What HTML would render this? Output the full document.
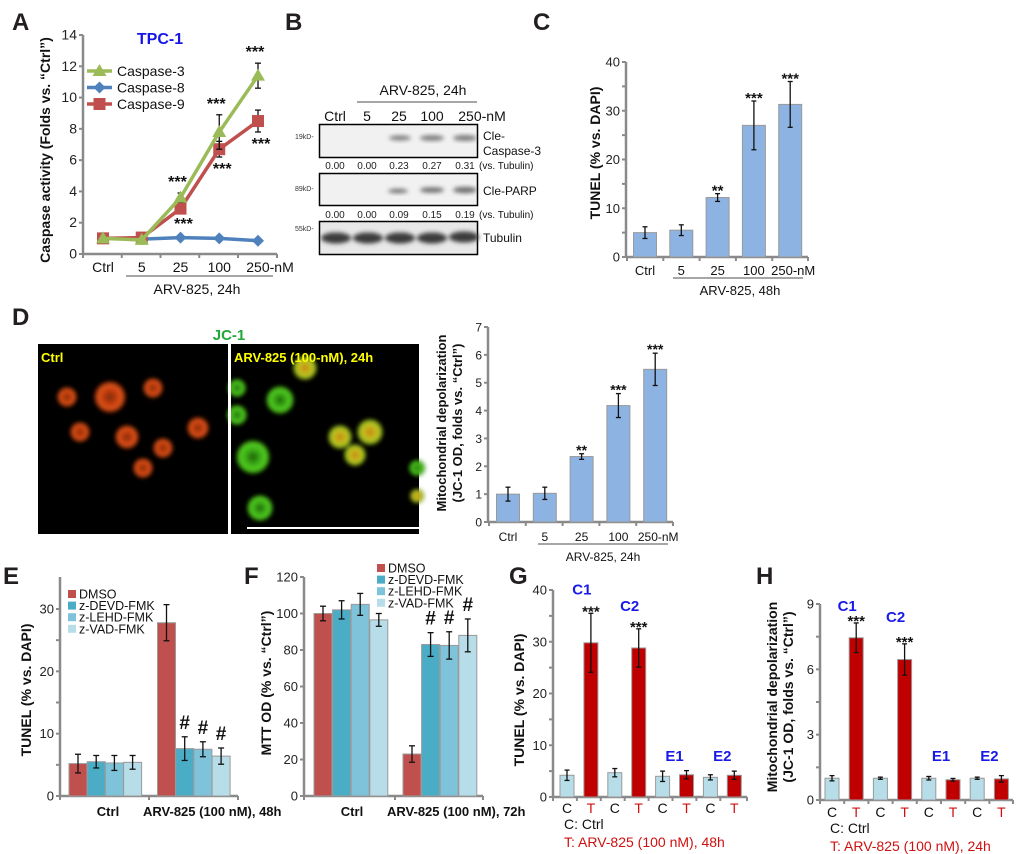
<!DOCTYPE html>
<html><head><meta charset="utf-8"><style>
html,body{margin:0;padding:0;background:#fff;}
svg{display:block;font-family:"Liberation Sans",sans-serif;}
</style></head><body>
<svg id="fig" width="1020" height="854" viewBox="0 0 1020 854" xmlns="http://www.w3.org/2000/svg">
<defs>
<filter id="blur" x="-50%" y="-50%" width="200%" height="200%"><feGaussianBlur stdDeviation="2.2"/></filter>
<radialGradient id="redcell"><stop offset="0" stop-color="#6a3010"/><stop offset="0.45" stop-color="#c83a10"/><stop offset="0.75" stop-color="#e25a1a"/><stop offset="1" stop-color="#300"/></radialGradient>
<radialGradient id="greencell"><stop offset="0" stop-color="#1a5a08"/><stop offset="0.5" stop-color="#3fb51a"/><stop offset="0.8" stop-color="#55d020"/><stop offset="1" stop-color="#0a2a00"/></radialGradient>
<radialGradient id="yellowcell"><stop offset="0" stop-color="#c08010"/><stop offset="0.55" stop-color="#c8c020"/><stop offset="0.85" stop-color="#90c020"/><stop offset="1" stop-color="#202000"/></radialGradient>
</defs>
<!-- Panel letters -->
<g font-weight="bold" font-size="24" fill="#231f20">
<text x="12" y="30">A</text>
<text x="285" y="30">B</text>
<text x="533" y="30">C</text>
<text x="12" y="325">D</text>
<text x="3" y="584">E</text>
<text x="244" y="584">F</text>
<text x="509" y="584">G</text>
<text x="756" y="584">H</text>
</g>

<!-- Panel B western blot -->
<g font-size="14" fill="#111">
<text x="423" y="95" text-anchor="middle">ARV-825, 24h</text>
<line x1="357" y1="102" x2="477" y2="102" stroke="#888" stroke-width="1.5"/>
<g text-anchor="middle">
<text x="335" y="121">Ctrl</text><text x="367" y="121">5</text><text x="399" y="121">25</text><text x="432" y="121">100</text><text x="482" y="121">250-nM</text>
</g>
<rect x="319.5" y="124.5" width="158" height="33" fill="#f1f1f1" stroke="#000" stroke-width="1.5"/>
<g fill="#555" filter="url(#blur)" opacity="0.75">
<ellipse cx="400" cy="138" rx="11" ry="2.5"/><ellipse cx="432" cy="138" rx="12" ry="2.8"/><ellipse cx="465" cy="138" rx="12" ry="3"/></g>
<rect x="319.5" y="173.5" width="158" height="32" fill="#f1f1f1" stroke="#000" stroke-width="1.5"/>
<g fill="#444" filter="url(#blur)" opacity="0.75">
<ellipse cx="398" cy="191" rx="10" ry="2.2"/><ellipse cx="432" cy="190" rx="12" ry="2.8"/><ellipse cx="465" cy="190" rx="12" ry="3.2"/></g>
<rect x="319.5" y="221.5" width="158" height="33" fill="#e8e8e8" stroke="#000" stroke-width="1.5"/>
<g fill="#3a3a3a" filter="url(#blur)">
<ellipse cx="336" cy="238" rx="15" ry="5.5"/><ellipse cx="368" cy="238" rx="15" ry="5.5"/><ellipse cx="400" cy="238" rx="15" ry="5.5"/><ellipse cx="432" cy="238" rx="15" ry="5.5"/><ellipse cx="464" cy="237" rx="15" ry="5.5"/></g>
<g font-size="7" fill="#333">
<text x="295" y="139">19kD-</text><text x="295" y="191">89kD-</text><text x="295" y="231">55kD-</text></g>
<g font-size="10" fill="#222" text-anchor="middle">
<text x="335" y="169">0.00</text><text x="367" y="169">0.00</text><text x="399" y="169">0.23</text><text x="432" y="169">0.27</text><text x="465" y="169">0.31</text></g>
<text x="479" y="169" font-size="10">(vs. Tubulin)</text>
<g font-size="10" fill="#222" text-anchor="middle">
<text x="335" y="218">0.00</text><text x="367" y="218">0.00</text><text x="399" y="218">0.09</text><text x="432" y="218">0.15</text><text x="465" y="218">0.19</text></g>
<text x="479" y="218" font-size="10">(vs. Tubulin)</text>
<g font-size="12">
<text x="483" y="140">Cle-</text><text x="483" y="155">Caspase-3</text><text x="483" y="195">Cle-PARP</text><text x="483" y="242">Tubulin</text></g>
</g>

<!-- Panel D micrograph -->
<g>
<text x="229" y="340" text-anchor="middle" font-size="15" font-weight="bold" fill="#22a83a">JC-1</text>
<rect x="38" y="344" width="381" height="190" fill="#000"/>
<g filter="url(#blur)">
<circle cx="67" cy="397" r="10" fill="url(#redcell)"/><circle cx="110" cy="397" r="16" fill="url(#redcell)"/><circle cx="153" cy="388" r="10" fill="url(#redcell)"/>
<circle cx="80" cy="432" r="10" fill="url(#redcell)"/><circle cx="127" cy="437" r="12" fill="url(#redcell)"/><circle cx="163" cy="448" r="10" fill="url(#redcell)"/>
<circle cx="198" cy="428" r="11" fill="url(#redcell)"/><circle cx="143" cy="468" r="10" fill="url(#redcell)"/>
</g>
<g filter="url(#blur)">
<circle cx="305" cy="368" r="12" fill="url(#yellowcell)"/><circle cx="280" cy="400" r="14" fill="url(#greencell)"/><circle cx="237" cy="388" r="9" fill="url(#greencell)"/>
<circle cx="237" cy="415" r="10" fill="url(#greencell)"/><circle cx="253" cy="457" r="17" fill="url(#greencell)"/><circle cx="340" cy="437" r="12" fill="url(#yellowcell)"/>
<circle cx="370" cy="432" r="13" fill="url(#yellowcell)"/><circle cx="355" cy="455" r="11" fill="url(#yellowcell)"/><circle cx="260" cy="508" r="13" fill="url(#greencell)"/>
<circle cx="417" cy="468" r="8" fill="url(#greencell)"/><circle cx="417" cy="496" r="7" fill="url(#yellowcell)"/>
</g>
<rect x="228" y="344" width="3" height="190" fill="#fff"/>
<rect x="247" y="527" width="172" height="2" fill="#fff"/>
<text x="41" y="362" font-size="13" font-weight="bold" fill="#ff0">Ctrl</text>
<text x="234" y="362" font-size="13" font-weight="bold" fill="#ff0">ARV-825 (100-nM), 24h</text>
</g>
</svg>
<script>
// ---------- DATA ----------
// Panel A
const aCategories = ["Ctrl","5","25","100","250-nM"];
const aTicks = [0,2,4,6,8,10,12,14];
const aCasp3 = [1.0,0.9,3.6,7.8,11.4];
const aCasp3Err = [0.1,0.1,0.3,1.1,0.8];
const aCasp8 = [1.0,0.95,1.05,1.0,0.85];
const aCasp8Err = [0,0,0,0,0];
const aCasp9 = [1.0,1.05,2.9,6.7,8.5];
const aCasp9Err = [0.1,0.1,0.2,0.5,0.7];
// Panel C
const cCategories = ["Ctrl","5","25","100","250-nM"];
const cTicks = [0,10,20,30,40];
const cValues = [5.0,5.5,12.2,27.0,31.3];
const cErrs = [1.2,1.1,0.8,5.0,4.7];
const cStars = ["","","**","***","***"];
// Panel D chart
const dCategories = ["Ctrl","5","25","100","250-nM"];
const dTicks = [0,1,2,3,4,5,6,7];
const dValues = [1.0,1.03,2.35,4.18,5.48];
const dErrs = [0.25,0.22,0.1,0.43,0.58];
const dStars = ["","","**","***","***"];
// Panel E
const eGroups = ["Ctrl","ARV-825 (100 nM), 48h"];
const eSeries = ["DMSO","z-DEVD-FMK","z-LEHD-FMK","z-VAD-FMK"];
const eTicks = [0,10,20,30];
const eCtrl = [5.2,5.5,5.3,5.4];
const eCtrlErr = [1.5,1.0,1.2,1.1];
const eArv = [27.8,7.6,7.5,6.4];
const eArvErr = [2.9,1.9,1.2,1.3];
const eArvMarks = ["","#","#","#"];
// Panel F
const fGroups = ["Ctrl","ARV-825 (100 nM), 72h"];
const fTicks = [0,20,40,60,80,100,120];
const fCtrl = [100,102,105,96.5];
const fCtrlErr = [4,5,6,3.5];
const fArv = [23,83,82.5,88];
const fArvErr = [4.5,6.5,7.5,9];
const fArvMarks = ["","#","#","#"];
// Panel G
const gCategories = ["C","T","C","T","C","T","C","T"];
const gTicks = [0,10,20,30,40];
const gValues = [4.2,29.8,4.7,28.8,4.0,4.3,3.8,4.2];
const gErrs = [1.0,5.7,0.8,3.7,1.0,0.8,0.5,0.8];
const gStars = ["","***","","***","","","",""];
const gLines = ["C1","C2","E1","E2"];
// Panel H
const hCategories = ["C","T","C","T","C","T","C","T"];
const hTicks = [0,3,6,9];
const hValues = [1.0,7.45,1.0,6.45,1.0,0.93,1.0,0.97];
const hErrs = [0.12,0.68,0.05,0.72,0.08,0.06,0.05,0.15];
const hStars = ["","***","","***","","","",""];
const hLines = ["C1","C2","E1","E2"];

// ---------- HELPERS ----------
const NS='http://www.w3.org/2000/svg';
const svg=document.getElementById('fig');
function mk(tag, attrs, name, parent){
  const el=document.createElementNS(NS,tag);
  for(const k in attrs) el.setAttribute(k,attrs[k]);
  
  
  (parent||svg).appendChild(el);
  return el;
}
function txt(x,y,s,name,o,parent){
  o=o||{};
  const a={x:x,y:y,'font-size':o.size||13,fill:o.fill||'#111'};
  if(o.anchor) a['text-anchor']=o.anchor;
  if(o.bold) a['font-weight']='bold';
  if(o.rot!==undefined) a.transform='rotate('+o.rot+' '+x+' '+y+')';
  const t=mk('text',a,name,parent);
  t.textContent=s;
  return t;
}
function group(name){ return mk('g',{},name); }
function yAxis(g,x,yZero,yTop,max,ticks,opt){
  const sc=v=>yZero-v/max*(yZero-yTop);
  mk('line',{x1:x,y1:yZero,x2:x,y2:opt.axisTop||yTop,stroke:'#8a8a8a','stroke-width':2.5},'y-axis-line',g);
  const n=(opt.minor?2:1);
  for(let i=0;i<ticks.length;i++){
    const y=sc(ticks[i]);
    mk('line',{x1:x-4,y1:y,x2:x,y2:y,stroke:'#8a8a8a','stroke-width':2},'y-tick',g);
    if(opt.minor && i<ticks.length-1){
      const ym=sc((ticks[i]+ticks[i+1])/2);
      mk('line',{x1:x-4,y1:ym,x2:x,y2:ym,stroke:'#8a8a8a','stroke-width':2},'y-minor-tick',g);
    }
    txt(x-6,y+4.5,String(ticks[i]),'y-tick-label',{anchor:'end',size:opt.fs||13,fill:'#222'},g);
  }
  return sc;
}
function xAxis(g,x0,x1,y,tickXs){
  mk('line',{x1:x0,y1:y,x2:x1,y2:y,stroke:'#8a8a8a','stroke-width':2.5},'x-axis-line',g);
  tickXs.forEach(tx=>mk('line',{x1:tx,y1:y,x2:tx,y2:y+4,stroke:'#8a8a8a','stroke-width':2},'x-tick',g));
}
function errBar(g,x,yLo,yHi,cap){
  mk('line',{x1:x,y1:yLo,x2:x,y2:yHi,stroke:'#111','stroke-width':1.3},'error-bar',g);
  mk('line',{x1:x-cap,y1:yLo,x2:x+cap,y2:yLo,stroke:'#111','stroke-width':1.3},'error-cap',g);
  mk('line',{x1:x-cap,y1:yHi,x2:x+cap,y2:yHi,stroke:'#111','stroke-width':1.3},'error-cap',g);
}
function bar(g,cx,w,sc,v,fill,name){
  const y=sc(v), y0=sc(0);
  mk('rect',{x:cx-w/2,y:y,width:w,height:y0-y,fill:fill,stroke:'#9a9a9a','stroke-width':1},name,g);
}

// ---------- PANEL A ----------
(function(){
  const g=group('panel-a-line-chart');
  const x0=83,yZero=254,yTop=35;
  const sc=yAxis(g,x0,yZero,yTop,14,aTicks,{fs:14});
  const step=38.75, xA=i=>x0+20+i*step;
  xAxis(g,x0,277,yZero,aCategories.map((c,i)=>x0+i*step).concat([277]));
  aCategories.forEach((c,i)=>txt(i==4?xA(i)+12:xA(i),272,c,'x-tick-label',{anchor:'middle',size:14},g));
  mk('line',{x1:126,y1:276,x2:273,y2:276,stroke:'#888','stroke-width':1.5},'treatment-underline',g);
  txt(197,294,'ARV-825, 24h','treatment-label',{anchor:'middle',size:14},g);
  txt(50,150,'Caspase activity (Folds vs. \u201cCtrl\u201d)','y-axis-title',{anchor:'middle',size:14,bold:true,rot:-90},g);
  txt(160,44,'TPC-1','cell-line-title',{anchor:'middle',size:16,bold:true,fill:'#1515e8'},g);
  const series=[
    {v:aCasp8,e:aCasp8Err,c:'#4f81bd',m:'diamond',n:'caspase-8'},
    {v:aCasp9,e:aCasp9Err,c:'#c0504d',m:'square',n:'caspase-9'},
    {v:aCasp3,e:aCasp3Err,c:'#9bbb59',m:'triangle',n:'caspase-3'}];
  function marker(x,y,m,c,name){
    if(m=='square') mk('rect',{x:x-6,y:y-6,width:12,height:12,fill:c},name,g);
    else if(m=='diamond') mk('polygon',{points:[x,y-6,x+6,y,x,y+6,x-6,y].join(' '),fill:c},name,g);
    else mk('polygon',{points:[x,y-7,x+7,y+5,x-7,y+5].join(' '),fill:c},name,g);
  }
  series.forEach(s=>{
    s.v.forEach((v,i)=>{ if(s.e[i]>0.15) errBar(g,xA(i),sc(v-s.e[i]),sc(v+s.e[i]),3); });
    mk('polyline',{points:s.v.map((v,i)=>xA(i)+','+sc(v)).join(' '),fill:'none',stroke:s.c,'stroke-width':3.5},s.n+'-line',g);
    s.v.forEach((v,i)=>marker(xA(i),sc(v),s.m,s.c,s.n+'-point'));
  });
  for(let i=2;i<5;i++){
    txt(xA(i)-3,sc(aCasp3[i]+aCasp3Err[i])-6,'***',"caspase-3-significance",{anchor:'middle',size:16,bold:true},g);
    txt(xA(i)+3,sc(aCasp9[i]-aCasp9Err[i])+17,'***',"caspase-9-significance",{anchor:'middle',size:16,bold:true},g);
  }
  const leg=[['Caspase-3','#9bbb59','triangle'],['Caspase-8','#4f81bd','diamond'],['Caspase-9','#c0504d','square']];
  leg.forEach((l,i)=>{
    const y=71+i*16.5;
    mk('line',{x1:87,y1:y,x2:112,y2:y,stroke:l[1],'stroke-width':3.5},'legend-line',g);
    marker(99.5,y,l[2],l[1],'legend-marker');
    txt(117,y+5,l[0],'legend-entry',{size:14},g);
  });
})();

// ---------- PANEL C ----------
(function(){
  const g=group('panel-c-bar-chart');
  const x0=626,yZero=257,yTop=62;
  const sc=yAxis(g,x0,yZero,yTop,40,cTicks,{minor:true,fs:13});
  const step=36.3, xc=i=>x0+19+i*step;
  xAxis(g,x0,808,yZero,cCategories.map((c,i)=>x0+1+i*step).concat([808]));
  cValues.forEach((v,i)=>{ bar(g,xc(i),23,sc,v,'#8db3e2','bar-'+cCategories[i]); errBar(g,xc(i),sc(v-cErrs[i]),sc(v+cErrs[i]),2.5);
    if(cStars[i]) txt(xc(i),sc(v+cErrs[i])+2,cStars[i],'significance-stars',{anchor:'middle',size:15,bold:true},g); });
  cCategories.forEach((c,i)=>txt(i==4?xc(i)+3:xc(i),275,c,'x-tick-label',{anchor:'middle',size:13},g));
  mk('line',{x1:673,y1:278,x2:803,y2:278,stroke:'#888','stroke-width':1.5},'treatment-underline',g);
  txt(740,295,'ARV-825, 48h','treatment-label',{anchor:'middle',size:13},g);
  txt(600,153,'TUNEL (% vs. DAPI)','y-axis-title',{anchor:'middle',size:14,bold:true,rot:-90},g);
})();

// ---------- PANEL D CHART ----------
(function(){
  const g=group('panel-d-bar-chart');
  const x0=488,yZero=522,yTop=327;
  const sc=yAxis(g,x0,yZero,yTop,7,dTicks,{fs:12});
  const step=36.8, xc=i=>x0+20+i*step;
  xAxis(g,x0,673,yZero,dCategories.map((c,i)=>x0+1+i*step).concat([673]));
  dValues.forEach((v,i)=>{ bar(g,xc(i),23,sc,v,'#8db3e2','bar-'+dCategories[i]); errBar(g,xc(i),sc(v-dErrs[i]),sc(v+dErrs[i]),2.5);
    if(dStars[i]) txt(xc(i),sc(v+dErrs[i])+1,dStars[i],'significance-stars',{anchor:'middle',size:14,bold:true},g); });
  dCategories.forEach((c,i)=>txt(i==4?xc(i)+3:xc(i),541,c,'x-tick-label',{anchor:'middle',size:12},g));
  mk('line',{x1:538,y1:544,x2:668,y2:544,stroke:'#888','stroke-width':1.5},'treatment-underline',g);
  txt(603,561,'ARV-825, 24h','treatment-label',{anchor:'middle',size:12},g);
  txt(446,423,'Mitochondrial depolarization','y-axis-title-line1',{anchor:'middle',size:13,bold:true,rot:-90},g);
  txt(462,423,'(JC-1 OD, folds vs. \u201cCtrl\u201d)','y-axis-title-line2',{anchor:'middle',size:13,bold:true,rot:-90},g);
})();

// ---------- PANELS E & F ----------
const inhColors=['#c0504d','#4bacc6','#7fc3da','#b7dde8'];
function groupedChart(cfg){
  const g=group(cfg.name);
  const sc=yAxis(g,cfg.x0,cfg.yZero,cfg.yTop,cfg.max,cfg.ticks,{minor:cfg.minor,fs:13,axisTop:cfg.axisTop});
  xAxis(g,cfg.x0,cfg.xEnd,cfg.yZero,[cfg.x0,cfg.xMid,cfg.xEnd]);
  const xs=(gi,si)=>cfg.start+gi*cfg.gstep+si*cfg.step;
  [cfg.ctrl,cfg.arv].forEach((vals,gi)=>{
    const errs=gi?cfg.arvErr:cfg.ctrlErr;
    vals.forEach((v,si)=>{
      bar(g,xs(gi,si),cfg.w,sc,v,inhColors[si],'bar-'+eSeries[si]+'-'+(gi?'arv':'ctrl'));
      errBar(g,xs(gi,si),sc(v-errs[si]),sc(v+errs[si]),3);
      if(gi&&cfg.marks[si]) txt(xs(gi,si),sc(v+errs[si])-8,cfg.marks[si],'significance-hash',{anchor:'middle',size:19,bold:true},g);
    });
  });
  txt(cfg.ctrlLabelX,816,cfg.groups[0],'x-group-label',{anchor:'middle',size:13,bold:true},g);
  txt(cfg.arvLabelX,816,cfg.groups[1],'x-group-label',{size:13,bold:true},g);
  txt(cfg.titleX,cfg.titleY,cfg.title,'y-axis-title',{anchor:'middle',size:14,bold:true,rot:-90},g);
  eSeries.forEach((s,i)=>{
    const y=cfg.legY+i*11.6;
    mk('rect',{x:cfg.legX,y:y-7,width:8,height:8,fill:inhColors[i]},'legend-swatch',g);
    txt(cfg.legX+11,y+1.5,s,'legend-entry',{size:12.5},g);
  });
}
groupedChart({name:'panel-e-grouped-bar-chart',x0:60,xEnd:238,xMid:149,yZero:796,yTop:609,axisTop:577,max:30,ticks:eTicks,minor:true,
  ctrl:eCtrl,ctrlErr:eCtrlErr,arv:eArv,arvErr:eArvErr,marks:eArvMarks,start:78,gstep:88.5,step:18.2,w:18,
  groups:eGroups,ctrlLabelX:108,arvLabelX:143,title:'TUNEL (% vs. DAPI)',titleX:31,titleY:690,legX:68,legY:597});
groupedChart({name:'panel-f-grouped-bar-chart',x0:304,xEnd:483,xMid:395,yZero:796,yTop:577,max:120,ticks:fTicks,minor:false,
  ctrl:fCtrl,ctrlErr:fCtrlErr,arv:fArv,arvErr:fArvErr,marks:fArvMarks,start:323,gstep:89,step:18.6,w:18,
  groups:fGroups,ctrlLabelX:352,arvLabelX:387,title:'MTT OD (% vs. \u201cCtrl\u201d)',titleX:271,titleY:683,legX:377,legY:571});

// ---------- PANELS G & H ----------
function ctChart(cfg){
  const g=group(cfg.name);
  const sc=yAxis(g,cfg.x0,cfg.yZero,cfg.yTop,cfg.max,cfg.ticks,{minor:true,fs:13});
  const xc=i=>cfg.start+i*cfg.step;
  xAxis(g,cfg.x0,cfg.xEnd,cfg.yZero,cfg.cats.map((c,i)=>cfg.x0+i*cfg.step).concat([cfg.xEnd]));
  cfg.vals.forEach((v,i)=>{
    bar(g,xc(i),14,sc,v,i%2?'#c00000':'#b7dde8','bar-'+cfg.cats[i]+'-'+i);
    errBar(g,xc(i),sc(v-cfg.errs[i]),sc(v+cfg.errs[i]),2.5);
    if(cfg.stars[i]) txt(xc(i),sc(v+cfg.errs[i])+3,cfg.stars[i],'significance-stars',{anchor:'middle',size:15,bold:true},g);
  });
  cfg.cats.forEach((c,i)=>txt(xc(i),cfg.catY,c,'x-tick-label',{anchor:'middle',size:14,fill:i%2?'#d01010':'#111'},g));
  cfg.lines.forEach((l,k)=>{
    const i=2*k+1;
    const y=k<2?sc(cfg.vals[i]+cfg.errs[i])-cfg.lineOff[k]:cfg.eY;
    txt(k<2?xc(i)-9:xc(i)-12,y,l,'cell-line-label',{anchor:'middle',size:15,bold:true,fill:'#1a1ae8'},g);
  });
  txt(cfg.legX,cfg.catY+16,'C: Ctrl','legend-ctrl',{size:14},g);
  txt(cfg.legX,cfg.catY+34,cfg.tLabel,'legend-treatment',{size:14,fill:'#d01010'},g);
  cfg.titles.forEach((t,k)=>txt(cfg.titleX[k],cfg.titleY,t,'y-axis-title',{anchor:'middle',size:14,bold:true,rot:-90},g));
}
ctChart({name:'panel-g-bar-chart',x0:553,xEnd:747,yZero:797,yTop:590,max:40,ticks:gTicks,cats:gCategories,vals:gValues,errs:gErrs,stars:gStars,
  lines:gLines,lineOff:[19,18],eY:761,start:567,step:23.9,catY:813,legX:564,tLabel:'T:  ARV-825 (100 nM), 48h',
  titles:['TUNEL (% vs. DAPI)'],titleX:[524],titleY:700});
ctChart({name:'panel-h-bar-chart',x0:820,xEnd:1013,yZero:800,yTop:604,max:9,ticks:hTicks,cats:hCategories,vals:hValues,errs:hErrs,stars:hStars,
  lines:hLines,lineOff:[12,22],eY:761,start:832,step:24.2,catY:817,legX:830,tLabel:'T:  ARV-825 (100 nM), 24h',
  titles:['Mitochondrial depolarization','(JC-1 OD, folds vs. \u201cCtrl\u201d)'],titleX:[777,793],titleY:697});
</script>
</body></html>
